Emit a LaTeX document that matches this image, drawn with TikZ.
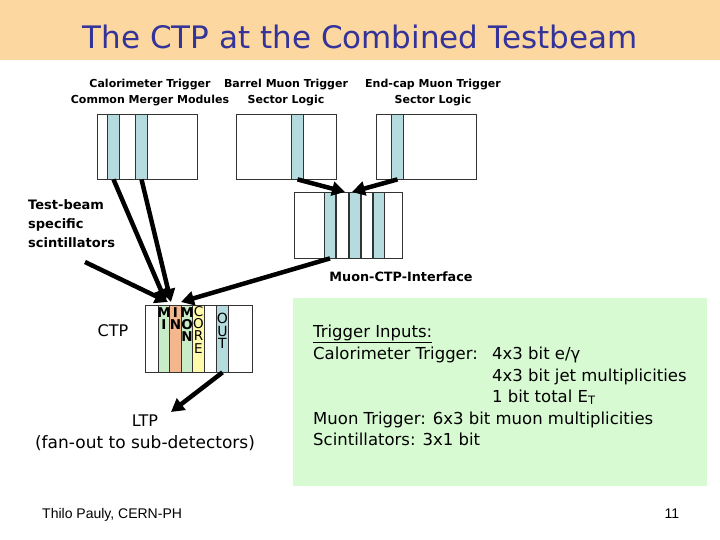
\documentclass[tikz,border=0pt]{standalone}
\usepackage{fontspec}
\setmainfont{DejaVu Sans}
\newfontfamily\footfont{Liberation Sans}
\usepackage{xcolor}
\usetikzlibrary{arrows.meta}
\definecolor{banner}{RGB}{253,215,160}
\definecolor{titleblue}{RGB}{51,51,153}
\definecolor{slotblue}{RGB}{180,220,222}
\definecolor{slotgreen}{RGB}{200,236,200}
\definecolor{slotorange}{RGB}{244,182,140}
\definecolor{slotyellow}{RGB}{255,250,170}
\definecolor{infogreen}{RGB}{216,250,210}

\begin{document}
\begin{tikzpicture}[x=1pt,y=-1pt,every node/.style={inner sep=0pt},
  module/.style={draw=black!80,line width=0.8pt,fill=white,minimum height=65pt},
  slot/.style={draw=black!80,line width=0.8pt,minimum width=11.5pt,minimum height=65pt},
  hdr/.style={font=\bfseries\fontsize{11}{16}\selectfont,align=center},
  info/.style={anchor=base west,font=\fontsize{16.5}{19}\selectfont},
  letters/.style={anchor=north,align=center,font=\bfseries\fontsize{13.5}{12.3}\selectfont},
  flow/.style={line width=4.5pt,-{Triangle[length=13pt,width=14pt]}}]
\useasboundingbox (0,0) rectangle (720,540);
\fill[banner] (0,0) rectangle (720,60);
\node[text=titleblue,font=\fontsize{31}{36}\selectfont] (title) at (360,37) {The CTP at the Combined Testbeam};

% trigger modules
\node[module,minimum width=100pt] (calo) at (147,146.5) {};
\node[slot,fill=slotblue] (calo1) at (113.5,146.5) {};
\node[slot,fill=slotblue] (calo2) at (141.5,146.5) {};
\node[module,minimum width=100pt] (barrel) at (286,146.5) {};
\node[slot,fill=slotblue] (barrel1) at (297.5,146.5) {};
\node[module,minimum width=100pt] (endcap) at (426,146.5) {};
\node[slot,fill=slotblue] (endcap1) at (397.5,146.5) {};

\node[hdr] (calotxt) at (150,93) {Calorimeter Trigger\\Common Merger Modules};
\node[hdr] (barreltxt) at (286,93) {Barrel Muon Trigger\\Sector Logic};
\node[hdr] (endcaptxt) at (433,93) {End-cap Muon Trigger\\Sector Logic};

% muon-ctp-interface
\node[module,minimum width=108pt,minimum height=66pt] (mui) at (348,225) {};
\node[slot,fill=slotblue,minimum height=66pt] (mui1) at (330,225) {};
\node[slot,minimum height=66pt] (mui2) at (342.5,225) {};
\node[slot,fill=slotblue,minimum height=66pt] (mui3) at (355,225) {};
\node[slot,minimum height=66pt] (mui4) at (367,225) {};
\node[slot,fill=slotblue,minimum height=66pt] (mui5) at (379,225) {};
\node[hdr,font=\bfseries\fontsize{12.8}{14}\selectfont] (muitxt) at (401,277) {Muon-CTP-Interface};

\node[hdr,align=left,anchor=north west,font=\bfseries\fontsize{13}{19}\selectfont] (scint) at (28,199) {Test-beam\\specific\\scintillators};
\coordinate (scintout) at (85,262);

% ctp crate
\node[module,minimum width=107pt,minimum height=67pt] (ctp) at (198.5,338.5) {};
\node[slot,fill=slotgreen,minimum height=67pt] (min) at (164,338.5) {};
\node[slot,fill=slotorange,minimum height=67pt] (mimo) at (175.5,338.5) {};
\node[slot,fill=slotgreen,minimum height=67pt] (mio) at (187,338.5) {};
\node[slot,fill=slotyellow,minimum height=67pt] (core) at (198.5,338.5) {};
\node[slot,fill=slotblue,minimum height=67pt] (out) at (222.5,338.5) {};
\node[letters] at (164,307) {M\\I};
\node[letters] at (175.5,307) {I\\N};
\node[letters] at (187,307) {M\\O\\N};
\node[letters,font=\fontsize{13.5}{12.3}\selectfont] at (198.5,306) {C\\O\\R\\E};
\node[letters,font=\fontsize{14}{12.5}\selectfont] at (222.5,313) {O\\U\\T};

\node[font=\fontsize{16}{18}\selectfont] (ctptxt) at (113,331) {CTP};
\node[font=\fontsize{16}{18}\selectfont] (ltp) at (145,421) {LTP};
\node[font=\fontsize{17}{19}\selectfont] (ltptxt) at (145,443) {(fan-out to sub-detectors)};
\coordinate (ltpin) at (171,412);

% arrows into the ctp
\coordinate (ctpin1) at (166,302);
\coordinate (ctpin2) at (171,302);
\coordinate (ctpin3) at (168,302);
\coordinate (ctpin4) at (181,302);
\coordinate (muiin1) at (345,192);
\coordinate (muiin2) at (352,192);
\draw[flow] (calo1.south) -- (ctpin1);
\draw[flow] (calo2.south) -- (ctpin2);
\draw[flow] (scintout) -- (ctpin3);
\draw[flow] (mui1.south) -- (ctpin4);
\draw[flow] (barrel1.south) -- (muiin1);
\draw[flow] (endcap1.south) -- (muiin2);
\draw[flow] (out.south) -- (ltpin);

% trigger inputs
\node[fill=infogreen,minimum width=414pt,minimum height=188pt,anchor=north west] (inputs) at (293,298) {};
\node[info] (l1) at (313,337) {\underline{Trigger Inputs:}};
\node[info] (l2) at (313,359) {Calorimeter Trigger:};
\node[info] (l2b) at (492,359) {4x3 bit e/γ};
\node[info] (l3) at (492,381) {4x3 bit jet multiplicities};
\node[info] (l4) at (492,402) {1 bit total E\textsubscript{T}};
\node[info] (l5) at (313,424) {Muon Trigger: 6x3 bit muon multiplicities};
\node[info] (l6) at (313,445) {Scintillators: 3x1 bit};

\node[anchor=base west,font=\footfont\fontsize{14}{16}\selectfont] (author) at (42,518) {Thilo Pauly, CERN-PH};
\node[anchor=base,font=\footfont\fontsize{14}{16}\selectfont] (page) at (672,518) {11};
\end{tikzpicture}
\end{document}
